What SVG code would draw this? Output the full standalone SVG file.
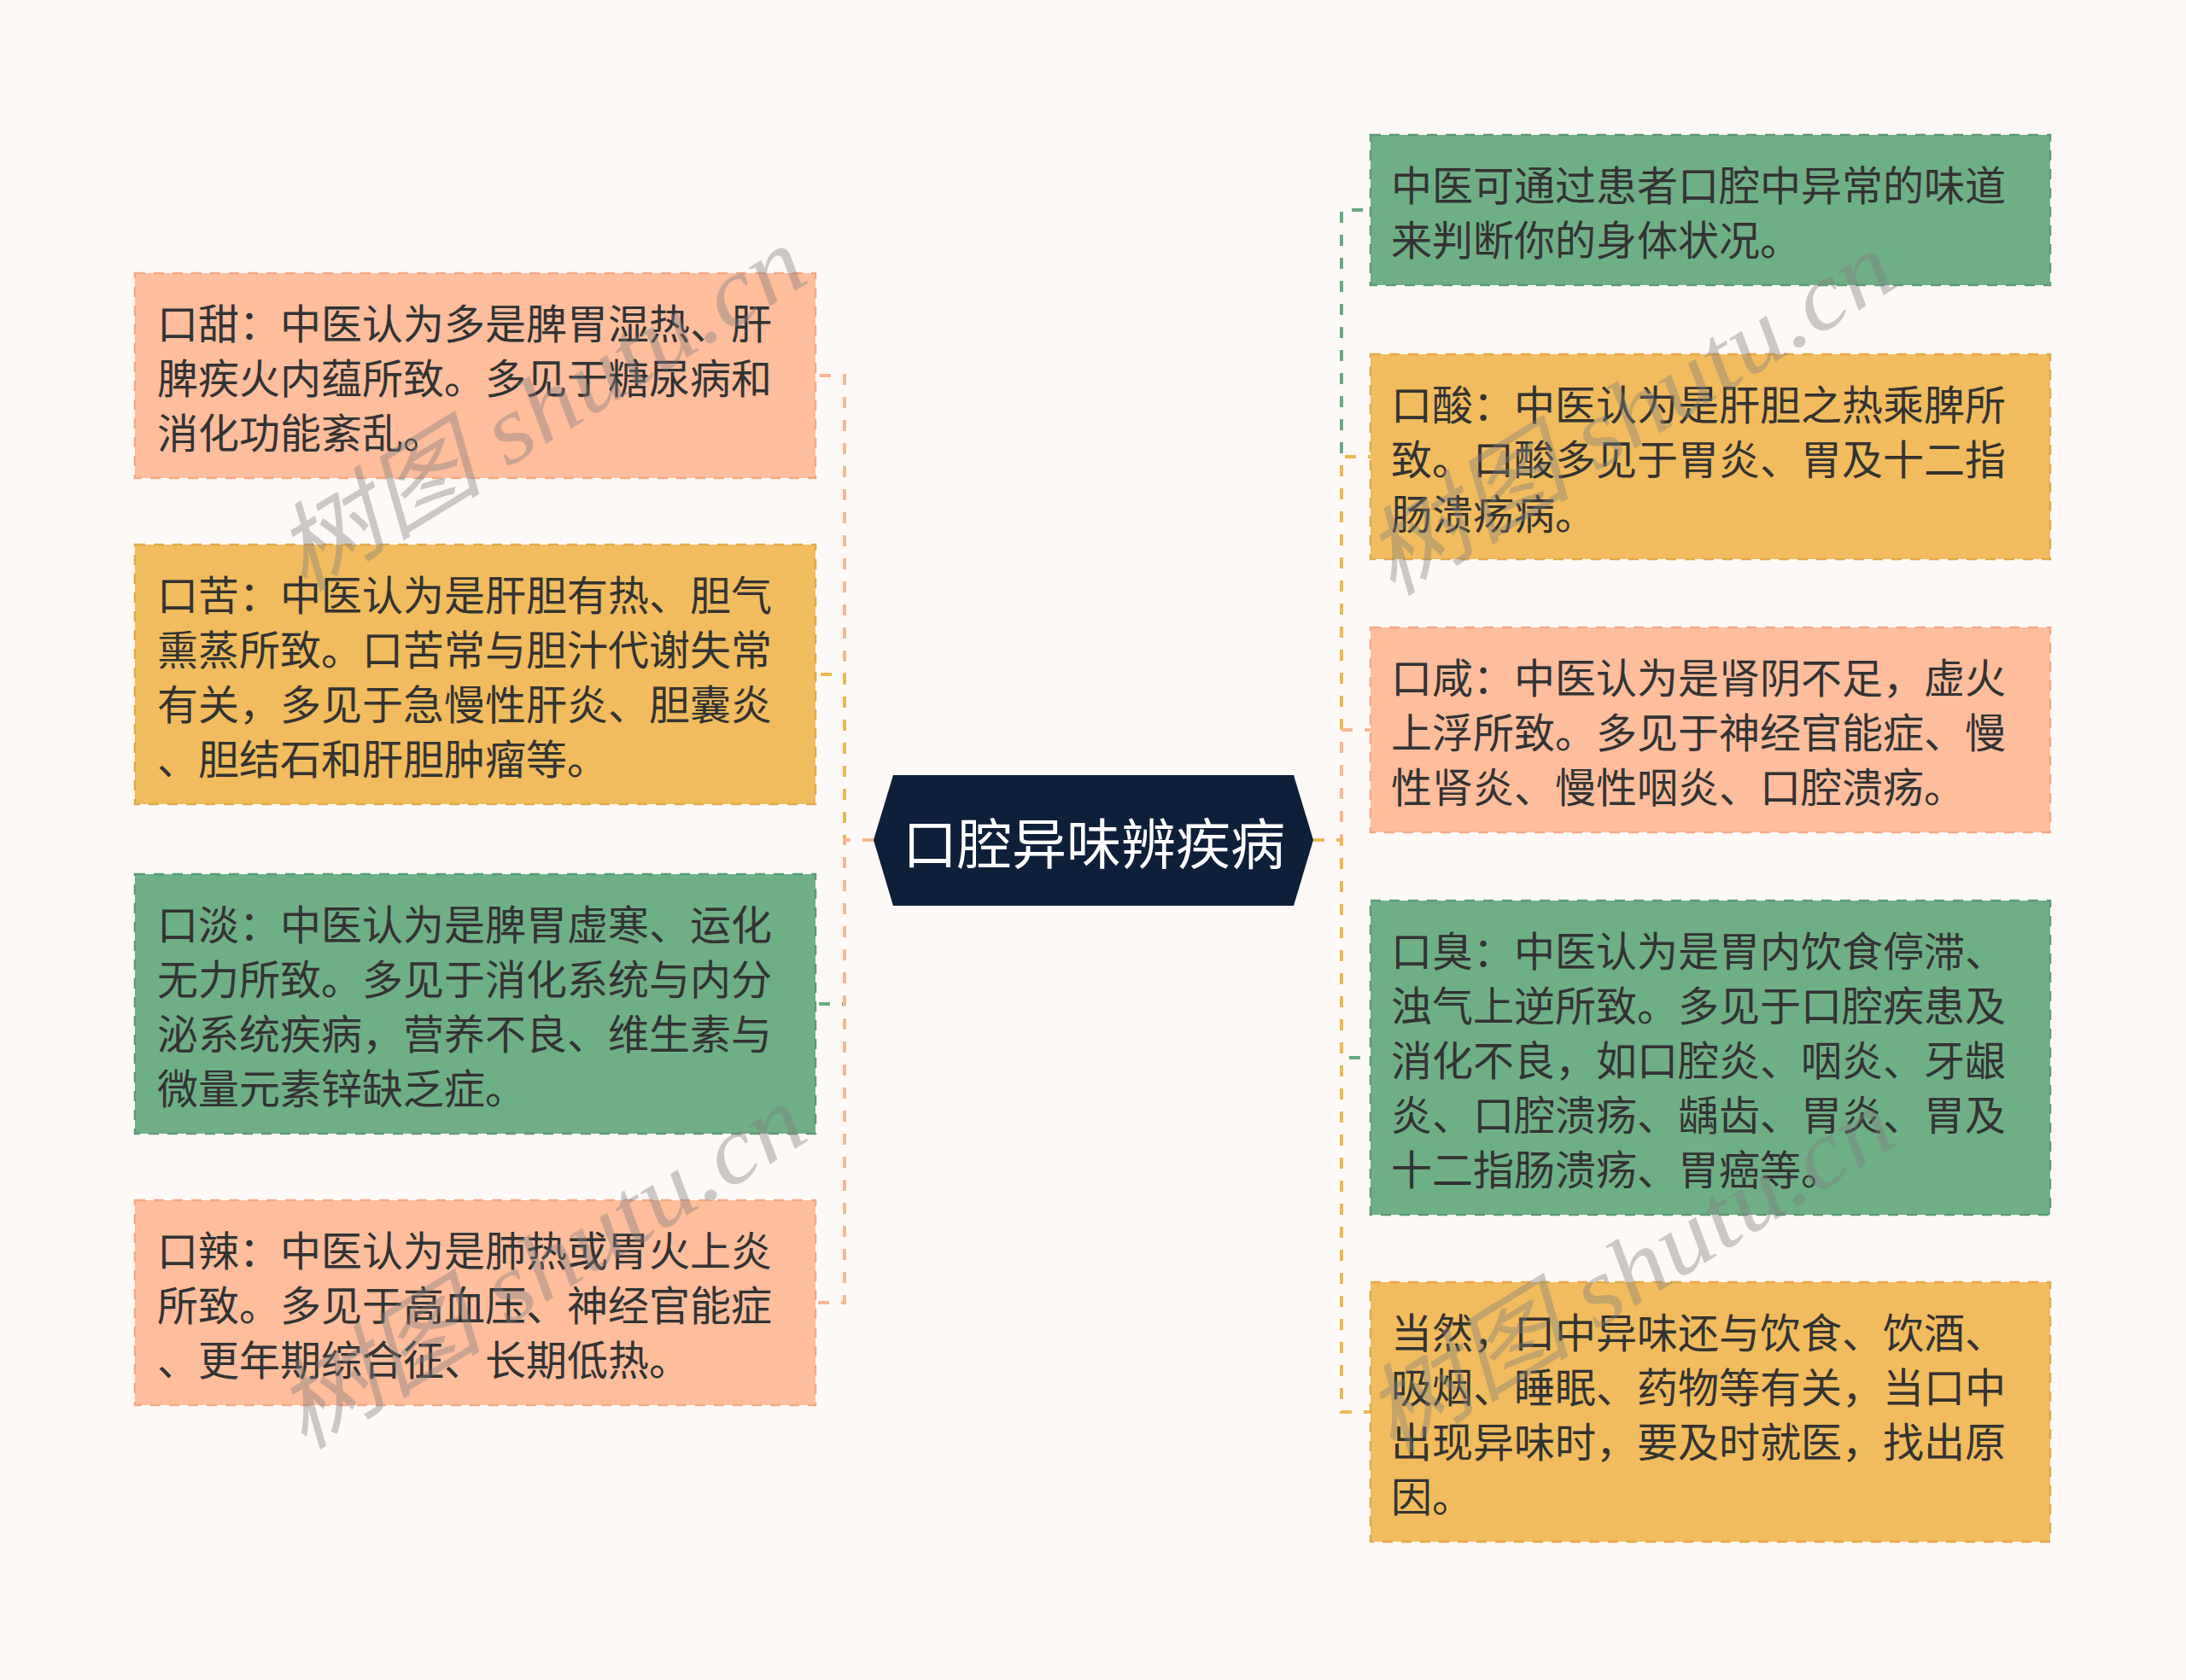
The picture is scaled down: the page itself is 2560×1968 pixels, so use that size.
<svg xmlns="http://www.w3.org/2000/svg" width="2560" height="1968" viewBox="0 0 2560 1968">
<style>
.bg{fill:#fdf9f7}
.peach{fill:#febd9b;stroke:#f1aa84}
.yellow{fill:#f0bc5e;stroke:#e0a94a}
.green{fill:#6faf86;stroke:#5c9a73}
.box{stroke-width:2.5;stroke-dasharray:12 10}
.t{font-family:"Noto Sans CJK SC","Noto Sans",sans-serif;font-size:48px;fill:#333333}
.ct{font-family:"Noto Sans CJK SC","Noto Sans",sans-serif;font-size:64px;fill:#ffffff}
.c{fill:none;stroke-width:4;stroke-dasharray:13 14}
.cp{stroke:#f9b793}
.cy{stroke:#ecb855}
.cg{stroke:#6aa882}
.wm{font-family:"Liberation Serif","Noto Sans CJK SC",serif;font-style:italic;font-size:112px;fill:#808080;fill-opacity:0.4}
</style>
<rect class="bg" x="0" y="0" width="2560" height="1968"/>
<g id="connectors">
<path class="c cp" d="M1023,984 H989 V440 H955"/>
<path class="c cy" d="M1023,984 H989 V790 H955"/>
<path class="c cg" d="M1023,984 H989 V1176 H955"/>
<path class="c cp" d="M1023,984 H989 V1526 H955"/>
<path class="c cg" d="M1538,984 H1571 V246 H1605"/>
<path class="c cy" d="M1538,984 H1571 V535 H1605"/>
<path class="c cp" d="M1538,984 H1571 V855 H1605"/>
<path class="c cg" d="M1538,984 H1571 V1239 H1605"/>
<path class="c cy" d="M1538,984 H1571 V1654 H1605"/>
</g>
<g id="center">
<polygon points="1023,984 1046,908 1515,908 1538,984 1515,1061 1046,1061" fill="#0e1f3a"/>
<text class="ct" x="1281" y="984" text-anchor="middle" dominant-baseline="central">口腔异味辨疾病</text>
</g>
<g id="n-left-1">
<rect class="box peach" x="158" y="320" width="797" height="240"/>
<text class="t" dominant-baseline="central"><tspan x="184" y="376">口甜：中医认为多是脾胃湿热、肝</tspan><tspan x="184" y="440">脾疾火内蕴所致。多见于糖尿病和</tspan><tspan x="184" y="504">消化功能紊乱。</tspan></text>
</g>
<g id="n-left-2">
<rect class="box yellow" x="158" y="638" width="797" height="304"/>
<text class="t" dominant-baseline="central"><tspan x="184" y="694">口苦：中医认为是肝胆有热、胆气</tspan><tspan x="184" y="758">熏蒸所致。口苦常与胆汁代谢失常</tspan><tspan x="184" y="822">有关，多见于急慢性肝炎、胆囊炎</tspan><tspan x="184" y="886">、胆结石和肝胆肿瘤等。</tspan></text>
</g>
<g id="n-left-3">
<rect class="box green" x="158" y="1024" width="797" height="304"/>
<text class="t" dominant-baseline="central"><tspan x="184" y="1080">口淡：中医认为是脾胃虚寒、运化</tspan><tspan x="184" y="1144">无力所致。多见于消化系统与内分</tspan><tspan x="184" y="1208">泌系统疾病，营养不良、维生素与</tspan><tspan x="184" y="1272">微量元素锌缺乏症。</tspan></text>
</g>
<g id="n-left-4">
<rect class="box peach" x="158" y="1406" width="797" height="240"/>
<text class="t" dominant-baseline="central"><tspan x="184" y="1462">口辣：中医认为是肺热或胃火上炎</tspan><tspan x="184" y="1526">所致。多见于高血压、神经官能症</tspan><tspan x="184" y="1590">、更年期综合征、长期低热。</tspan></text>
</g>
<g id="n-right-1">
<rect class="box green" x="1605" y="158" width="796" height="176"/>
<text class="t" dominant-baseline="central"><tspan x="1629" y="214">中医可通过患者口腔中异常的味道</tspan><tspan x="1629" y="278">来判断你的身体状况。</tspan></text>
</g>
<g id="n-right-2">
<rect class="box yellow" x="1605" y="415" width="796" height="240"/>
<text class="t" dominant-baseline="central"><tspan x="1629" y="471">口酸：中医认为是肝胆之热乘脾所</tspan><tspan x="1629" y="535">致。口酸多见于胃炎、胃及十二指</tspan><tspan x="1629" y="599">肠溃疡病。</tspan></text>
</g>
<g id="n-right-3">
<rect class="box peach" x="1605" y="735" width="796" height="240"/>
<text class="t" dominant-baseline="central"><tspan x="1629" y="791">口咸：中医认为是肾阴不足，虚火</tspan><tspan x="1629" y="855">上浮所致。多见于神经官能症、慢</tspan><tspan x="1629" y="919">性肾炎、慢性咽炎、口腔溃疡。</tspan></text>
</g>
<g id="n-right-4">
<rect class="box green" x="1605" y="1055" width="796" height="368"/>
<text class="t" dominant-baseline="central"><tspan x="1629" y="1111">口臭：中医认为是胃内饮食停滞、</tspan><tspan x="1629" y="1175">浊气上逆所致。多见于口腔疾患及</tspan><tspan x="1629" y="1239">消化不良，如口腔炎、咽炎、牙龈</tspan><tspan x="1629" y="1303">炎、口腔溃疡、龋齿、胃炎、胃及</tspan><tspan x="1629" y="1367">十二指肠溃疡、胃癌等。</tspan></text>
</g>
<g id="n-right-5">
<rect class="box yellow" x="1605" y="1502" width="796" height="304"/>
<text class="t" dominant-baseline="central"><tspan x="1629" y="1558">当然，口中异味还与饮食、饮酒、</tspan><tspan x="1629" y="1622">吸烟、睡眠、药物等有关，当口中</tspan><tspan x="1629" y="1686">出现异味时，要及时就医，找出原</tspan><tspan x="1629" y="1750">因。</tspan></text>
</g>
<g id="watermark">
<text class="wm" transform="translate(355,695) rotate(-31.6)" textLength="700" lengthAdjust="spacingAndGlyphs">树图 shutu.cn</text>
<text class="wm" transform="translate(1630,700) rotate(-31.6)" textLength="700" lengthAdjust="spacingAndGlyphs">树图 shutu.cn</text>
<text class="wm" transform="translate(355,1700) rotate(-31.6)" textLength="700" lengthAdjust="spacingAndGlyphs">树图 shutu.cn</text>
<text class="wm" transform="translate(1630,1705) rotate(-31.6)" textLength="700" lengthAdjust="spacingAndGlyphs">树图 shutu.cn</text>
</g>
</svg>
